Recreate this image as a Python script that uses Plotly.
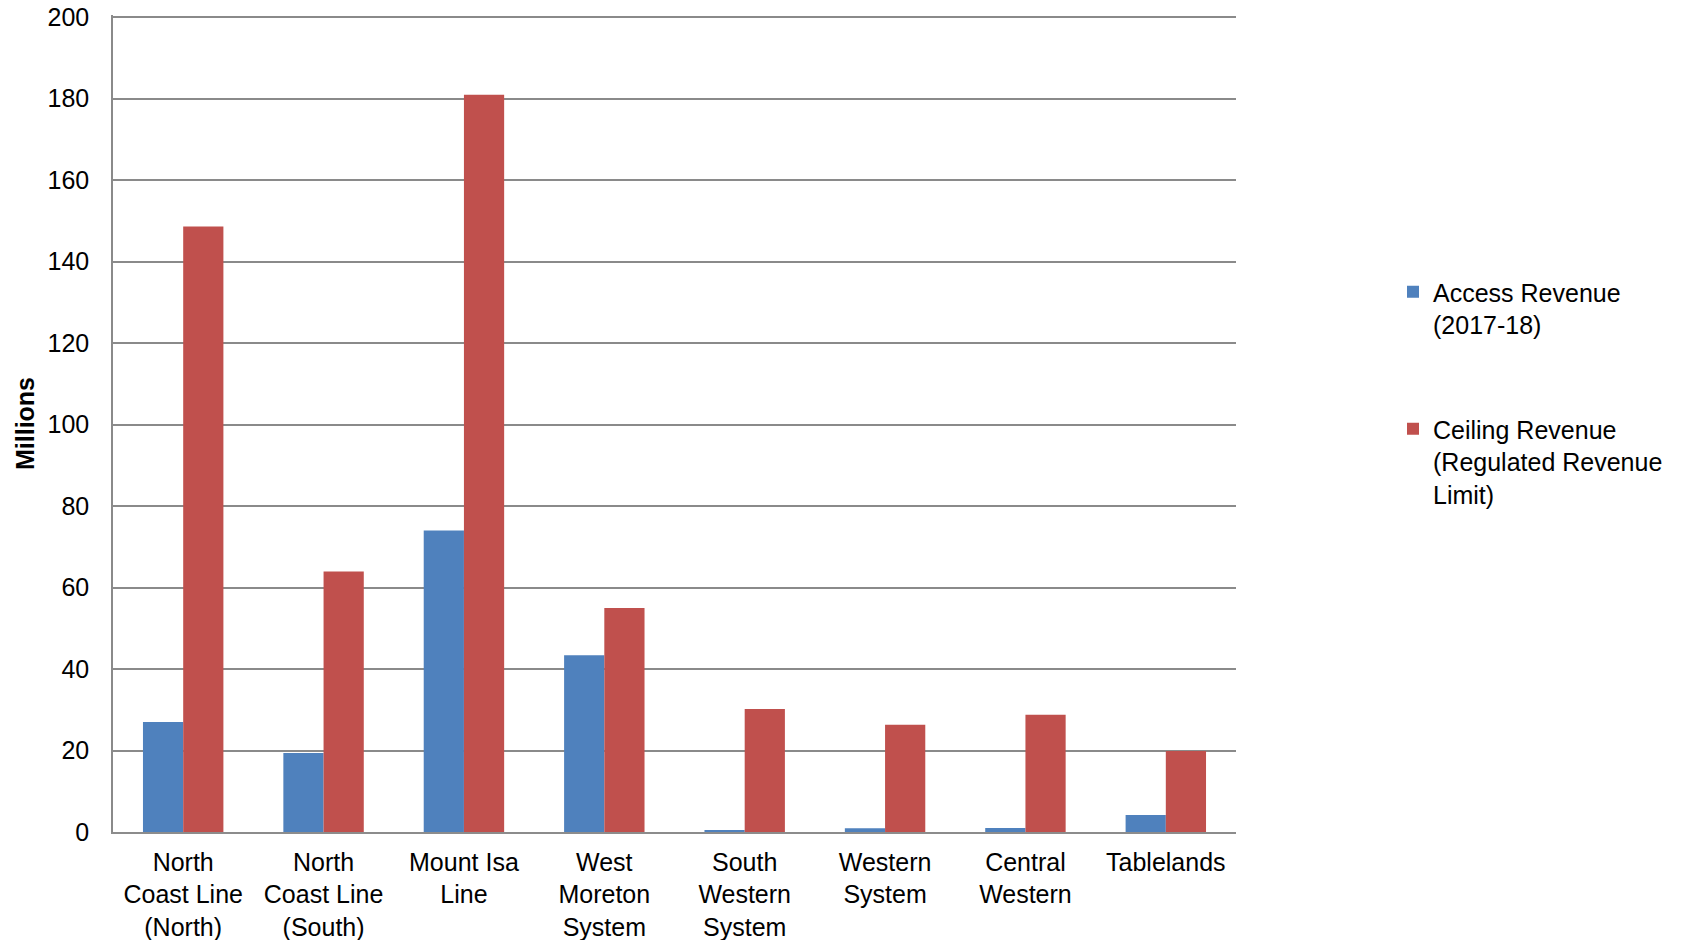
import plotly.graph_objects as go

categories = [
    "North<br>Coast Line<br>(North)",
    "North<br>Coast Line<br>(South)",
    "Mount Isa<br>Line",
    "West<br>Moreton<br>System",
    "South<br>Western<br>System",
    "Western<br>System",
    "Central<br>Western",
    "Tablelands",
]
access_revenue = [27.0, 19.4, 74.0, 43.4, 0.3, 0.9, 1.0, 4.2]
ceiling_revenue = [148.6, 63.9, 180.9, 55.0, 30.2, 26.3, 28.8, 19.9]

series_names = [
    "Access Revenue<br>(2017-18)",
    "Ceiling Revenue<br>(Regulated Revenue<br>Limit)",
]
y_ticks = list(range(0, 201, 20))

FONT = "Liberation Sans, Arial, sans-serif"
FS = 25

fig = go.Figure()
fig.add_trace(go.Bar(
    x=categories, y=access_revenue, name=series_names[0],
    marker=dict(color="#4F81BD", line=dict(width=0)),
    legendgroup="a",
))
fig.add_trace(go.Bar(
    x=categories, y=ceiling_revenue, name=series_names[1],
    marker=dict(color="#C0504D", line=dict(width=0)),
    legendgroup="b",
))

W, H = 1694, 940
fig.update_layout(
    width=W, height=H,
    margin=dict(l=113, r=W - 1236, t=15, b=H - 832),
    paper_bgcolor="white", plot_bgcolor="white",
    font=dict(family=FONT, size=FS, color="black"),
    barmode="group", bargap=0.427, bargroupgap=0,
    showlegend=True,
    legend=dict(
        xref="container", yref="container",
        x=1393 / W, y=1 - 269 / H, xanchor="left", yanchor="top",
        font=dict(family=FONT, size=FS, color="black"),
        tracegroupgap=69, traceorder="grouped", valign="top",
        itemclick=False, itemdoubleclick=False,
        bgcolor="rgba(0,0,0,0)",
    ),
    xaxis=dict(
        showgrid=False, showline=True, linecolor="#8C8C8C", linewidth=1.5,
        ticks="", tickfont=dict(family=FONT, size=FS, color="black"),
        tickangle=0, automargin=False, ticklabelstandoff=7,
    ),
    yaxis=dict(
        range=[0, 200.5], tickvals=y_ticks, ticktext=[str(v) for v in y_ticks],
        showgrid=True, gridcolor="#8A8A8A", gridwidth=1.5,
        showline=True, linecolor="#8A8A8A", linewidth=1.5,
        zeroline=False, ticks="", ticklabelstandoff=17, automargin=False,
        tickfont=dict(family=FONT, size=FS, color="black"),
        title=dict(text="<b>Millions</b>", standoff=6,
                   font=dict(family=FONT, size=FS, color="black")),
    ),
)

fig.write_html("out.html")
